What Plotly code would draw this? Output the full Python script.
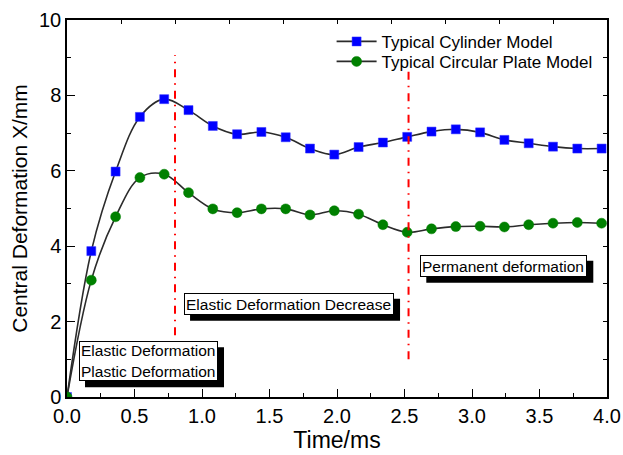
import plotly.graph_objects as go

# Sample times (ms)
time_ms = [0.00, 0.18, 0.36, 0.54, 0.72, 0.90, 1.08, 1.26, 1.44, 1.62, 1.80, 1.98,
           2.16, 2.34, 2.52, 2.70, 2.88, 3.06, 3.24, 3.42, 3.60, 3.78, 3.96]

# Central deformation (mm)
cylinder = [0.00, 3.87, 5.98, 7.43, 7.90, 7.61, 7.19, 6.97, 7.03, 6.89, 6.59, 6.43,
            6.63, 6.75, 6.90, 7.04, 7.10, 7.02, 6.82, 6.73, 6.64, 6.59, 6.59]
circular_plate = [0.00, 3.10, 4.78, 5.82, 5.91, 5.42, 4.99, 4.89, 4.99, 4.99, 4.83, 4.94,
                  4.85, 4.57, 4.37, 4.46, 4.52, 4.53, 4.51, 4.57, 4.61, 4.63, 4.61]

# Stage boundaries: (time, y_start, y_end)
stage_lines = [(0.80, 1.64, 9.07), (2.53, 1.00, 8.63)]

# Stage labels: (text, left x, bottom y)
stage_labels = [
    ("Elastic Deformation<br>Plastic Deformation", 0.089, 0.42),
    ("Elastic Deformation Decrease", 0.867, 2.18),
    ("Permanent deformation", 2.617, 3.19),
]
# Label box sizes in px: (width, height)
label_box_px = [(139, 40), (210, 22), (167, 22)]

FONT = "Arial, Liberation Sans, sans-serif"
LINE_COLOR = "#2b2b2b"
SHADOW = 6  # px offset of the box drop shadow

fig = go.Figure()

fig.add_trace(go.Scatter(
    x=time_ms, y=cylinder, name="Typical Cylinder Model",
    mode="lines+markers", legend="legend",
    line=dict(color=LINE_COLOR, width=1.6, shape="spline", smoothing=1.0),
    marker=dict(symbol="square", size=9, color="#0000ff",
                line=dict(color="#3333ff", width=0.5)),
))
fig.add_trace(go.Scatter(
    x=time_ms, y=circular_plate, name="Typical Circular Plate Model",
    mode="lines+markers", legend="legend2",
    line=dict(color=LINE_COLOR, width=1.6, shape="spline", smoothing=1.0),
    marker=dict(symbol="circle", size=10, color="#008000",
                line=dict(color="#008000", width=0.5)),
))

# invisible trace to bring the top/right frame axes into existence
fig.add_trace(go.Scatter(x=[0, 4], y=[0, 10], xaxis="x2", yaxis="y2",
                         mode="markers", marker=dict(opacity=0),
                         showlegend=False, hoverinfo="skip"))

for t, y0, y1 in stage_lines:
    fig.add_shape(type="line", x0=t, x1=t, y0=y0, y1=y1, xref="x", yref="y",
                  line=dict(color="#ff0000", width=2, dash="8px,6px,1.5px,6px"))

for (text, x, y), (w, h) in zip(stage_labels, label_box_px):
    # drop shadow behind the label box
    fig.add_shape(type="rect", xref="x", yref="y",
                  xsizemode="pixel", ysizemode="pixel",
                  xanchor=x, yanchor=y,
                  x0=SHADOW, x1=w + SHADOW, y0=-SHADOW, y1=h - SHADOW,
                  fillcolor="#000000", line=dict(width=0), layer="above")
    # label box
    fig.add_annotation(text=text, x=x, y=y, xref="x", yref="y",
                       xanchor="left", yanchor="bottom", align="left",
                       valign="middle", showarrow=False,
                       width=w - 4, height=h - 4,
                       font=dict(family=FONT, size=15.5, color="#000000"),
                       bgcolor="#ffffff", bordercolor="#000000",
                       borderwidth=1, borderpad=1)

axis_font = dict(family=FONT, size=20, color="#000000")

legend_common = dict(x=0.49, xanchor="left", yanchor="middle",
                     bgcolor="rgba(0,0,0,0)", borderwidth=0, itemwidth=40,
                     font=dict(family=FONT, size=17, color="#000000"))

fig.update_layout(
    width=623, height=455,
    margin=dict(l=67, r=16, t=20, b=58),
    paper_bgcolor="#ffffff", plot_bgcolor="#ffffff",
    font=dict(family=FONT, color="#000000"),
    showlegend=True,
    legend=dict(y=0.942, **legend_common),
    legend2=dict(y=0.889, **legend_common),
    xaxis=dict(range=[0, 4], dtick=0.5, tick0=0, tickformat=".1f",
               ticks="inside", ticklen=8, tickwidth=1.2, tickcolor="#000000",
               minor=dict(dtick=0.25, ticks="inside", ticklen=4, tickwidth=1.2,
                          tickcolor="#000000"),
               showline=True, linecolor="#000000", linewidth=1.5,
               showgrid=False, zeroline=False, tickfont=axis_font,
               automargin=False,
               title=dict(text="Time/ms", font=dict(family=FONT, size=23, color="#000000"),
                          standoff=6)),
    yaxis=dict(range=[0, 10], dtick=2, tick0=0,
               ticks="inside", ticklen=8, tickwidth=1.2, tickcolor="#000000",
               minor=dict(dtick=1, ticks="inside", ticklen=4, tickwidth=1.2,
                          tickcolor="#000000"),
               showline=True, linecolor="#000000", linewidth=1.5,
               showgrid=False, zeroline=False, tickfont=axis_font,
               automargin=False,
               title=dict(text="Central Deformation X/mm",
                          font=dict(family=FONT, size=21, color="#000000"), standoff=6)),
    xaxis2=dict(range=[0, 4], overlaying="x", side="top", anchor="y2",
                dtick=0.4, tick0=0, ticks="inside", ticklen=4, tickwidth=1.2,
                tickcolor="#000000", showticklabels=False, automargin=False,
                showline=True, linecolor="#000000", linewidth=1.5,
                showgrid=False, zeroline=False),
    yaxis2=dict(range=[0, 10], overlaying="y", side="right", anchor="x2",
                dtick=1, tick0=0, ticks="inside", ticklen=4, tickwidth=1.2,
                tickcolor="#000000", showticklabels=False, automargin=False,
                showline=True, linecolor="#000000", linewidth=1.5,
                showgrid=False, zeroline=False),
)

fig.write_html("out.html")
